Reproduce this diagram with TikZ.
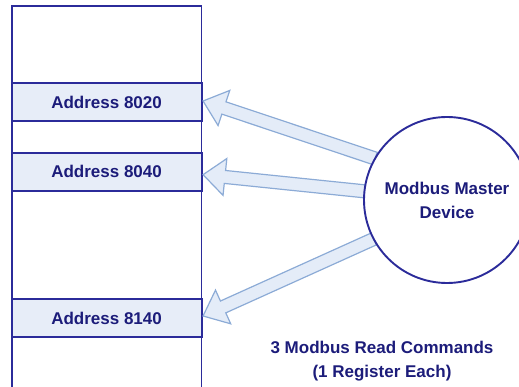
\documentclass[tikz,border=0pt]{standalone}
\usepackage{fontspec}
\setmainfont{Liberation Sans}
\usetikzlibrary{calc}

\definecolor{navyline}{HTML}{2B2B9A}
\definecolor{navytext}{HTML}{1C1C7A}
\definecolor{bandfill}{HTML}{E7EDF8}
\definecolor{arrowfill}{HTML}{E4ECF8}
\definecolor{arrowline}{HTML}{8CABD6}

% block arrow from tip #1 back to tail #2
\newcommand\blockarrow[2]{%
  \filldraw[fatarrow]
    (#1)
    -- ($(#1)!22pt!(#2)!18.5pt!90:(#2)$)
    -- ($(#1)!22pt!(#2)!6.5pt!90:(#2)$)
    -- ($(#2)!6.5pt!-90:(#1)$)
    -- ($(#2)!6.5pt!90:(#1)$)
    -- ($(#1)!22pt!(#2)!6.5pt!-90:(#2)$)
    -- ($(#1)!22pt!(#2)!18.5pt!-90:(#2)$)
    -- cycle;}

\tikzset{
  labeltext/.style={font=\bfseries\fontsize{17}{24}\selectfont, text=navytext},
  band/.style={draw=navyline, line width=1.9pt, fill=bandfill,
    minimum width=190pt, minimum height=38pt, inner sep=0pt, labeltext},
  device/.style={circle, draw=navyline, line width=1.9pt, fill=white,
    minimum size=166pt, inner sep=0pt, align=center, labeltext},
  fatarrow/.style={fill=arrowfill, draw=arrowline, line width=1.2pt, line join=miter},
  memframe/.style={draw=navyline, line width=1.9pt},
}

\begin{document}
\begin{tikzpicture}[x=1pt, y=-1pt]
  \useasboundingbox (0,0) rectangle (519,387);

  % register map column, open at the bottom
  \draw[memframe] (11.7,400) -- (11.7,6) -- (201.5,6) -- (201.5,400);

  \node[band] (a8020) at (106.6,102) {Address 8020};
  \node[band] (a8040) at (106.6,171.7) {Address 8040};
  \node[band] (a8140) at (106.6,318) {Address 8140};

  % the master device and where the requests leave it
  \coordinate (mc) at (447,200);
  \coordinate (t1) at ($(mc)+(150:83pt)$);
  \coordinate (t2) at ($(mc)+(174:83pt)$);
  \coordinate (t3) at ($(mc)+(208:83pt)$);
  \coordinate (h1) at ($(a8020.east)+(0.5,-1)$);
  \coordinate (h2) at ($(a8040.east)+(0.5,3)$);
  \coordinate (h3) at ($(a8140.east)+(0.5,-2)$);

  \blockarrow{h1}{t1}
  \blockarrow{h2}{t2}
  \blockarrow{h3}{t3}

  \node[device] (master) at (mc) {Modbus Master\\Device};

  \node[labeltext, align=center] (cmds) at (382,361)
    {3 Modbus Read Commands\\(1 Register Each)};
\end{tikzpicture}
\end{document}
